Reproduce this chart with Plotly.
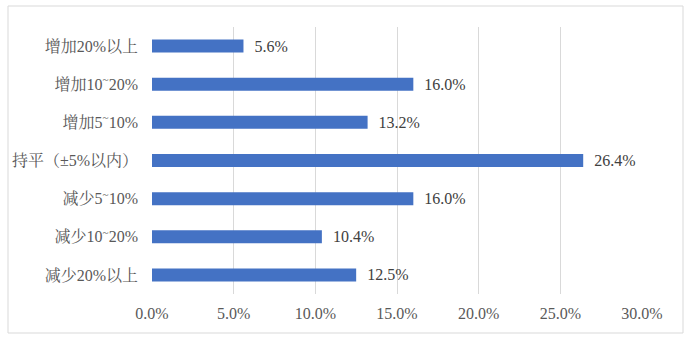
import plotly.graph_objects as go

categories = ["增加20%以上", "增加10~20%", "增加5~10%", "持平（±5%以内）",
              "减少5~10%", "减少10~20%", "减少20%以上"]
tick_labels = ["增加20%以上", "增加10<sup>~</sup>20%", "增加5<sup>~</sup>10%", "持平（±5%以内）",
               "减少5<sup>~</sup>10%", "减少10<sup>~</sup>20%", "减少20%以上"]
values = [5.6, 16.0, 13.2, 26.4, 16.0, 10.4, 12.5]
x_ticks = [0, 5, 10, 15, 20, 25, 30]

font_stack = "Liberation Serif, Noto Serif CJK SC, Noto Sans CJK SC, serif"

L, R, T, B = 152, 47, 27, 48
W, H = 689, 342
pw, ph = W - L - R, H - T - B

fig = go.Figure(go.Bar(
    y=categories,
    x=values,
    orientation="h",
    marker=dict(color="#4472C4", line=dict(width=0)),
    width=0.34,
    text=[f"  {v:.1f}%" for v in values],
    textposition="outside",
    constraintext="none",
    textfont=dict(family=font_stack, size=16, color="#404040"),
    cliponaxis=False,
))

fig.update_layout(
    width=W, height=H,
    margin=dict(l=L, r=R, t=T, b=B),
    paper_bgcolor="white", plot_bgcolor="white",
    showlegend=False,
    uniformtext=dict(mode=False),
    font=dict(family=font_stack, size=16, color="#595959"),
    xaxis=dict(
        range=[0, 30], tickvals=x_ticks,
        ticktext=[f"{t:.1f}%" for t in x_ticks],
        showgrid=True, gridcolor="#D9D9D9", gridwidth=1,
        zeroline=False, showline=False, ticks="",
        ticklabelstandoff=8,
        tickfont=dict(size=16, color="#595959"),
    ),
    yaxis=dict(
        autorange="reversed",
        tickvals=categories, ticktext=tick_labels,
        showgrid=False, showline=False, ticks="",
        ticklabelstandoff=13,
        tickfont=dict(size=16, color="#595959"),
    ),
    shapes=[dict(type="rect", xref="paper", yref="paper",
                 x0=-(L - 8) / pw, x1=(683 - L) / pw,
                 y0=-(333 - (H - B)) / ph, y1=1 + (T - 6) / ph,
                 line=dict(color="#D9D9D9", width=1), fillcolor="rgba(0,0,0,0)",
                 layer="below")],
)

fig.write_html("out.html")
